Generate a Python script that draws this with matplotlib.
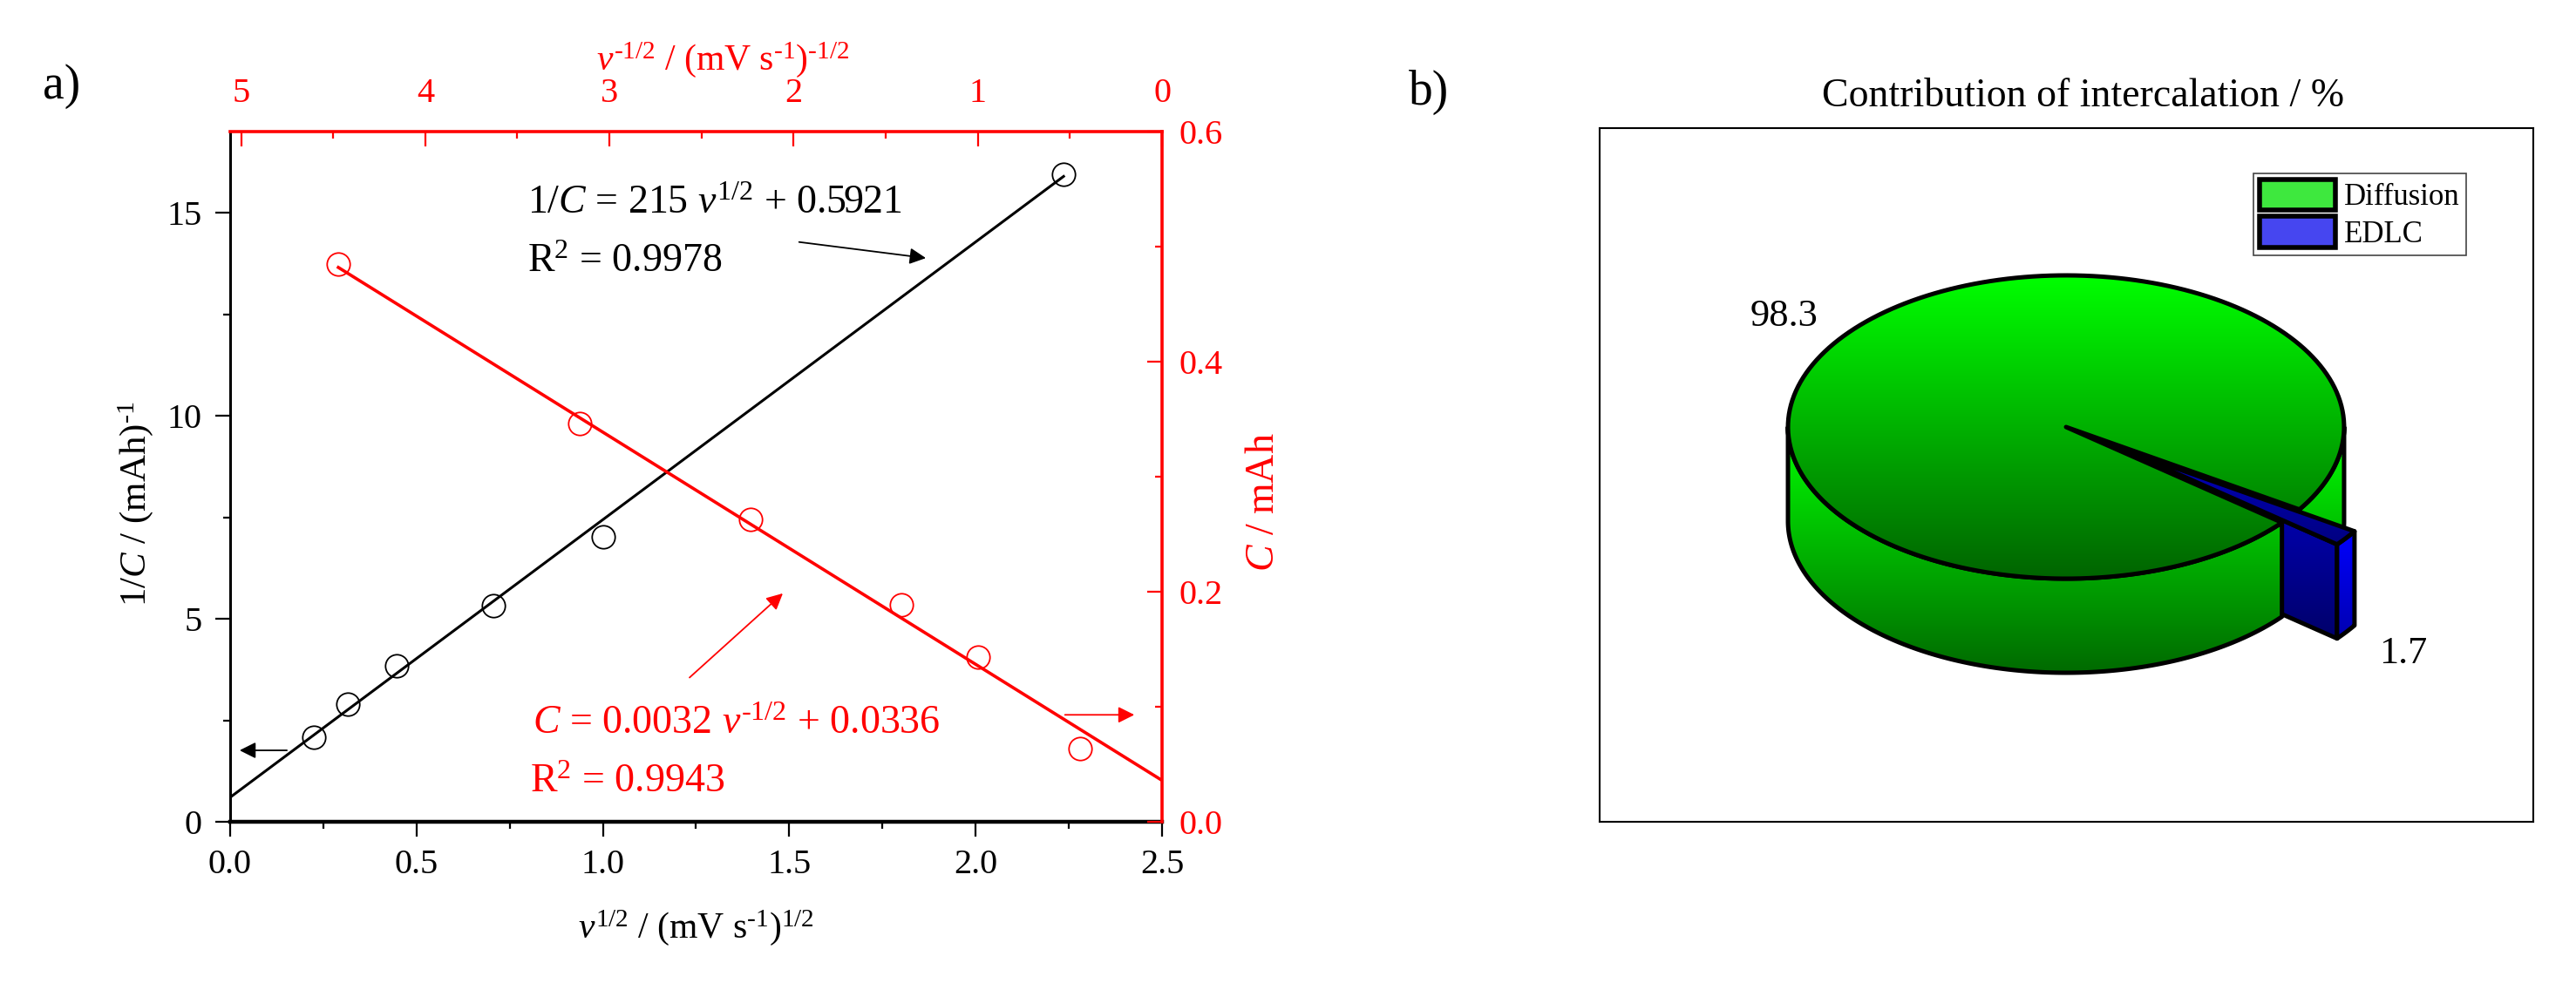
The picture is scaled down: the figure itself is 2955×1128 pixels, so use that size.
import numpy as np
import matplotlib
matplotlib.use("Agg")
import matplotlib.pyplot as plt
from matplotlib.patches import Polygon, Patch
from matplotlib.colors import LinearSegmentedColormap
from matplotlib.ticker import MultipleLocator, FormatStrFormatter

plt.rcParams['font.family'] = 'Liberation Serif'
plt.rcParams['mathtext.fontset'] = 'custom'
plt.rcParams['mathtext.rm'] = 'Liberation Serif'
plt.rcParams['mathtext.it'] = 'Liberation Serif:italic'
plt.rcParams['mathtext.bf'] = 'Liberation Serif:bold'

# a) 1/C against v^1/2 (bottom / left axes, black)
sqrt_rate = [0.224, 0.316, 0.447, 0.707, 1.0, 2.236]
inv_cap = [2.08, 2.90, 3.85, 5.33, 7.02, 15.95]
inv_fit_x = [0.0, 2.236]
inv_fit_y = [0.60, 15.90]

# C against v^-1/2 (top / right axes, red)
inv_sqrt_rate = [4.472, 3.162, 2.236, 1.414, 1.0, 0.447]
cap = [0.485, 0.346, 0.263, 0.189, 0.143, 0.064]
cap_fit_x = [4.472, 0.0]
cap_fit_y = [0.482, 0.036]

# b) contribution of intercalation
pie_labels = ['Diffusion', 'EDLC']
pie_values = [98.3, 1.7]

HY = '\u2010'  # short hyphen used in the superscripts

fig = plt.figure(figsize=(29.55, 11.28), dpi=100)

# ---------------- panel a ----------------
rect = [0.0893, 0.164, 0.3618, 0.702]
ax = fig.add_axes(rect)
ax2 = fig.add_axes(rect, label='red')
ax2.patch.set_visible(False)

ax.plot(inv_fit_x, inv_fit_y, color='black', lw=2.2)
ax.plot(sqrt_rate, inv_cap, 'o', mfc='none', mec='black', ms=19, mew=1.3)
ax2.plot(cap_fit_x, cap_fit_y, color='red', lw=2.6)
ax2.plot(inv_sqrt_rate, cap, 'o', mfc='none', mec='red', ms=19, mew=1.3)

ax.set_xlim(0, 2.5)
ax.set_ylim(0, 17)
ax2.set_xlim(5.06, 0)
ax2.set_ylim(0, 0.6)

ax.xaxis.set_major_locator(MultipleLocator(0.5))
ax.xaxis.set_minor_locator(MultipleLocator(0.25))
ax.xaxis.set_major_formatter(FormatStrFormatter('%.1f'))
ax.yaxis.set_major_locator(MultipleLocator(5))
ax.yaxis.set_minor_locator(MultipleLocator(2.5))
ax2.xaxis.set_major_locator(MultipleLocator(1))
ax2.xaxis.set_minor_locator(MultipleLocator(0.5))
ax2.yaxis.set_major_locator(MultipleLocator(0.2))
ax2.yaxis.set_minor_locator(MultipleLocator(0.1))
ax2.yaxis.set_major_formatter(FormatStrFormatter('%.1f'))

ax2.xaxis.tick_top()
ax2.yaxis.tick_right()
ax2.xaxis.set_label_position('top')
ax2.yaxis.set_label_position('right')

ax.spines['top'].set_visible(False)
ax.spines['right'].set_visible(False)
ax.spines['left'].set_linewidth(2.2)
ax.spines['bottom'].set_linewidth(3.2)
ax2.spines['left'].set_visible(False)
ax2.spines['bottom'].set_visible(False)
for s in ['top', 'right']:
    ax2.spines[s].set_color('red')
    ax2.spines[s].set_linewidth(2.6)

ax.tick_params(which='both', direction='out', labelsize=29, width=1.6)
ax.tick_params(which='major', length=12)
ax.tick_params(which='minor', length=6)
ax.tick_params(axis='x', pad=10)
ax.tick_params(axis='y', pad=11)
ax2.tick_params(which='both', direction='in', colors='red', labelsize=29, width=1.6)
ax2.tick_params(which='major', length=12)
ax2.tick_params(which='minor', length=6)
ax2.tick_params(axis='x', pad=18)
ax2.tick_params(axis='y', pad=14)

ax.set_xlabel(r'$v^{1/2}$ / (mV s$^{' + HY + r'1}$)$^{1/2}$', fontsize=30)
ax.set_ylabel(r'1/$C$ / (mAh)$^{' + HY + r'1}$', fontsize=31)
ax2.set_xlabel(r'$v^{' + HY + r'1/2}$ / (mV s$^{' + HY + r'1}$)$^{' + HY + r'1/2}$',
               fontsize=30, color='red')
ax2.set_ylabel(r'$C$ / mAh', fontsize=33, color='red')
ax.xaxis.set_label_coords(0.5, -0.125)
ax.yaxis.set_label_coords(-0.08, 0.461)
ax2.xaxis.set_label_coords(0.529, 1.09)
ax2.yaxis.set_label_coords(1.089, 0.463)

ax.text(0.797, 14.98, r'1/$C$ = 215 $v^{1/2}$ + 0.5921', fontsize=33, va='baseline')
ax.text(0.797, 13.54, r'R$^2$ = 0.9978', fontsize=33, va='baseline')
ax.text(0.811, 2.17, r'$C$ = 0.0032 $v^{' + HY + r'1/2}$ + 0.0336', fontsize=33,
        va='baseline', color='red')
ax.text(0.805, 0.73, r'R$^2$ = 0.9943', fontsize=33, va='baseline', color='red')

arrow_k = dict(arrowstyle='-|>', color='black', lw=1.3, mutation_scale=28)
arrow_r = dict(arrowstyle='-|>', color='red', lw=1.3, mutation_scale=28)
ax.annotate('', xy=(1.873, 13.88), xytext=(1.520, 14.29), arrowprops=arrow_k)
ax.annotate('', xy=(0.019, 1.76), xytext=(0.159, 1.76), arrowprops=arrow_k)
ax2.annotate('', xy=(2.049, 0.200), xytext=(2.575, 0.124), arrowprops=arrow_r)
ax2.annotate('', xy=(0.137, 0.093), xytext=(0.540, 0.093), arrowprops=arrow_r)

fig.text(0.0166, 0.90, 'a)', fontsize=40, va='baseline')
fig.text(0.547, 0.894, 'b)', fontsize=40, va='baseline')

# ---------------- panel b : 3D pie ----------------
axb = fig.add_axes([0.621, 0.164, 0.3624, 0.7057])
for s in axb.spines.values():
    s.set_linewidth(1.5)
axb.set_xticks([])
axb.set_yticks([])

cx, cy = 535, 453
rx, ry = 319, 174
depth = 108
explode = 0.245
edlc_mid = np.radians(-36)

fracs = np.array(pie_values) / sum(pie_values)
half = np.pi * fracs[1]
t1, t2 = edlc_mid - half, edlc_mid + half
ox = explode * rx * np.cos(edlc_mid)
oy = explode * ry * np.sin(edlc_mid)


def arc(ta, tb, dx=0.0, dy=0.0, n=200):
    t = np.linspace(ta, tb, n)
    return np.column_stack([cx + dx + rx * np.cos(t), cy + dy + ry * np.sin(t)])


def grad_poly(xy, c_top, c_bot, z, yr=None, lw=3.6):
    poly = Polygon(xy, closed=True, facecolor='none', edgecolor='black',
                   lw=lw, joinstyle='round', zorder=z + 0.5)
    axb.add_patch(poly)
    y0, y1 = yr if yr else (xy[:, 1].min(), xy[:, 1].max())
    cmap = LinearSegmentedColormap.from_list('g', [c_bot, c_top])
    grad = np.linspace(0, 1, 256).reshape(-1, 1)
    im = axb.imshow(grad, cmap=cmap, origin='lower', aspect='auto',
                    extent=[xy[:, 0].min() - 5, xy[:, 0].max() + 5, y0, y1],
                    zorder=z, interpolation='bilinear')
    im.set_clip_path(poly)


def wall(ta, tb, dx=0.0, dy=0.0):
    top = arc(ta, tb, dx, dy)
    bot = top[::-1].copy()
    bot[:, 1] -= depth
    return np.vstack([top, bot])


wall_range = (cy - ry - depth, cy)
# green side wall, part right of the gap
grad_poly(wall(t2, 0), '#00ff00', '#006a00', 1, wall_range)

# exploded EDLC slice
apex = np.array([cx + ox, cy + oy])
p1 = arc(t1, t1, ox, oy, 1)[0]
front = np.array([apex, p1, p1 - [0, depth], apex - [0, depth]])
grad_poly(front, '#0000d0', '#00006a', 3)
grad_poly(wall(t1, t2, ox, oy), '#0000ff', '#0000b0', 5)
grad_poly(np.vstack([apex, arc(t1, t2, ox, oy)]), '#0000c0', '#000080', 7)

# green side wall, part left of the gap, then green top
grad_poly(wall(-np.pi, t1), '#00ff00', '#006a00', 9, wall_range)
grad_poly(np.vstack([[cx, cy], arc(t2, t1 + 2 * np.pi)]), '#00ff00', '#006400', 11)

axb.text(212, 580, f'{pie_values[0]:.1f}', fontsize=32, ha='center', va='center', zorder=20)
axb.text(922, 193, f'{pie_values[1]:.1f}', fontsize=32, ha='center', va='center', zorder=20)

handles = [Patch(facecolor='#3ee83e', edgecolor='black', lw=4),
           Patch(facecolor='#4646f0', edgecolor='black', lw=4)]
leg = axb.legend(handles, pie_labels, loc='upper right', bbox_to_anchor=(0.928, 0.935),
                 borderaxespad=0, fontsize=25, fancybox=False, edgecolor='#444444',
                 framealpha=1, handlelength=2.5, handleheight=1.2, labelspacing=0.15,
                 borderpad=0.2, handletextpad=0.3)
leg.get_frame().set_linewidth(1.2)
leg.set_zorder(30)

axb.set_xlim(0, 1071)
axb.set_ylim(0, 796)

fig.text(2390 / 2955, 1 - 122 / 1128, 'Contribution of intercalation / %',
         fontsize=33, ha='center', va='baseline')

fig.savefig('out.png', dpi=100)
